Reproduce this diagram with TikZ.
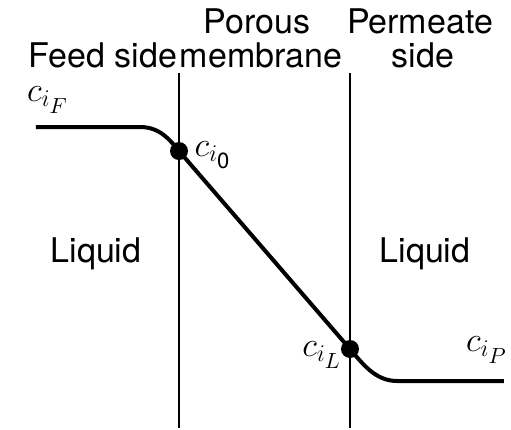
\documentclass[tikz,border=0pt]{standalone}
\usepackage{fontspec}
\setmainfont{TeX Gyre Heros}
\usetikzlibrary{positioning}

\newcommand{\subsub}[1]{\mbox{\fontsize{11}{12}\selectfont #1}}

\begin{document}
\begin{tikzpicture}[x=0.5pt,y=-0.5pt,
  region/.style={font=\fontsize{17}{20}\selectfont, anchor=base, inner sep=0pt},
  conc/.style={font=\fontsize{17}{19}\selectfont, inner sep=0pt},
  wall/.style={line width=0.8pt},
  profile/.style={line width=2pt, line join=round},
  dot/.style={circle, fill, inner sep=0pt, minimum size=9pt}]
  \useasboundingbox (0,0) rectangle (511,430);

  % headings
  \node[region] (feed) at (103,67) {Feed side};
  \node[region] (porous) at (257,33) {Porous};
  \node[region] (membr) at (261,67) {membrane};
  \node[region] (perm) at (420,33) {Permeate};
  \node[region] (pside) at (423,67) {side};

  % membrane walls
  \coordinate (wLtop) at (179,73);
  \coordinate (wLbot) at (179,428);
  \coordinate (wRtop) at (350,73);
  \coordinate (wRbot) at (350,428);
  \draw[wall] (wLtop) -- (wLbot);
  \draw[wall] (wRtop) -- (wRbot);

  % bulk phases
  \node[region] (liqF) at (96,262) {Liquid};
  \node[region] (liqP) at (425,262) {Liquid};

  % concentration profile
  \node[dot] (i0) at (179,151) {};
  \node[dot] (iL) at (350,349) {};
  \coordinate (F) at (36,127);
  \coordinate (Fend) at (140,127);
  \coordinate (Pstart) at (397,381);
  \coordinate (P) at (504,381);
  \draw[profile] (F) -- (Fend) .. controls (160,127) and (170,140) .. (i0.center)
    -- (iL.center) .. controls (362,363) and (375,381) .. (Pstart) -- (P);

  % concentrations
  \node[conc] (cF) at (48,100) {$c_{i_{\subsub{$F$}}}$};
  \node[conc] (c0) at (213,155) {$c_{i_{\subsub{0}}}$};
  \node[conc] (cL) at (322,355) {$c_{i_{\subsub{$L$}}}$};
  \node[conc] (cP) at (487,350) {$c_{i_{\subsub{$P$}}}$};
\end{tikzpicture}
\end{document}
